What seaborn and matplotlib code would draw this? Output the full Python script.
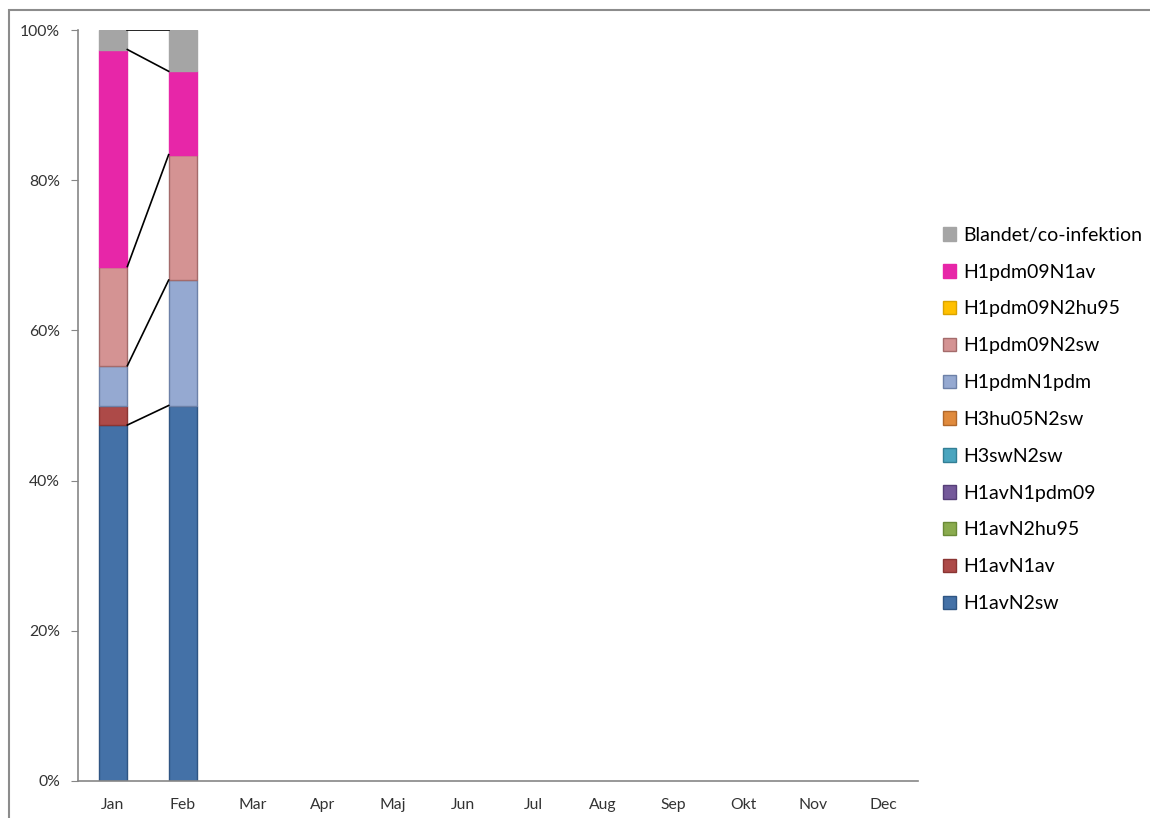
import numpy as np
import pandas as pd
import seaborn as sns
import matplotlib
matplotlib.use('Agg')
import matplotlib.pyplot as plt
from matplotlib.patches import Patch, Rectangle

months = ['Jan', 'Feb', 'Mar', 'Apr', 'Maj', 'Jun', 'Jul', 'Aug', 'Sep', 'Okt', 'Nov', 'Dec']

# series listed bottom -> top of the stack (percent of samples per month)
series_names = ['H1avN2sw', 'H1avN1av', 'H1avN2hu95', 'H1avN1pdm09', 'H3swN2sw',
                'H3hu05N2sw', 'H1pdmN1pdm', 'H1pdm09N2sw', 'H1pdm09N2hu95',
                'H1pdm09N1av', 'Blandet/co-infektion']

H1avN2sw = [47.4, 50.0]
H1avN1av = [2.6, 0.0]
H1avN2hu95 = [0.0, 0.0]
H1avN1pdm09 = [0.0, 0.0]
H3swN2sw = [0.0, 0.0]
H3hu05N2sw = [0.0, 0.0]
H1pdmN1pdm = [5.3, 16.7]
H1pdm09N2sw = [13.2, 16.7]
H1pdm09N2hu95 = [0.0, 0.0]
H1pdm09N1av = [28.9, 11.1]
Blandet = [2.6, 5.5]

series_values = [H1avN2sw, H1avN1av, H1avN2hu95, H1avN1pdm09, H3swN2sw, H3hu05N2sw,
                 H1pdmN1pdm, H1pdm09N2sw, H1pdm09N2hu95, H1pdm09N1av, Blandet]

fill_colors = ['#4471a7', '#ad4a48', '#8aab4e', '#74599a', '#4aa5bf',
               '#e08a3c', '#95a9d1', '#d49393', '#ffc000', '#e726a8', '#a5a5a5']
edge_colors = ['#2f5583', '#8a3533', '#6a8a37', '#563f78', '#337f95',
               '#b0672a', '#6d81a8', '#a46b6b', '#d9a300', '#e726a8', '#a5a5a5']

rows = []
cum = np.zeros(len(series_values[0]))
for name, vals in zip(series_names, series_values):
    vals = np.array(vals)
    for m, v, b in zip(months, vals, cum):
        rows.append({'month': m, 'series': name, 'value': v, 'base': b, 'top': b + v})
    cum = cum + vals
df = pd.DataFrame(rows)

plt.rcParams['font.family'] = ['Lato', 'DejaVu Sans']
fig = plt.figure(figsize=(11.5, 8.18), dpi=100)
ax = fig.add_axes([78 / 1150, 1 - 781 / 818, 840 / 1150, 751 / 818])

bar_w = 0.41
for i, name in enumerate(series_names):
    sub = df[(df.series == name) & (df.value > 0)]
    if sub.empty:
        continue
    sns.barplot(data=sub, x='month', y='value', order=months, color=fill_colors[i],
                edgecolor=edge_colors[i], linewidth=1.0, width=bar_w,
                bottom=sub.base.to_numpy(), saturation=1, errorbar=None, ax=ax,
                zorder=2)

# series lines between adjacent bars
for name in series_names:
    s = df[df.series == name].reset_index(drop=True)
    for j in range(len(s) - 1):
        if s.value[j] > 0 and s.value[j + 1] > 0:
            ax.plot([j + bar_w / 2, j + 1 - bar_w / 2], [s.top[j], s.top[j + 1]],
                    color='black', linewidth=1.2, zorder=3)

ax.set_xlim(-0.5, len(months) - 0.5)
ax.set_ylim(0, 100)
ax.set_yticks(np.arange(0, 101, 20))
ax.set_yticklabels([f'{t}%' for t in range(0, 101, 20)])
ax.set_xlabel('')
ax.set_ylabel('')
for sp in ['top', 'right']:
    ax.spines[sp].set_visible(False)
for sp in ['left', 'bottom']:
    ax.spines[sp].set_color('#868686')
    ax.spines[sp].set_linewidth(1.2)
ax.tick_params(axis='y', direction='out', length=5, color='#868686', labelsize=11.3,
               labelcolor='#333333', pad=8)
ax.tick_params(axis='x', length=0, labelsize=11.3, labelcolor='#333333', pad=12)

handles = [Patch(facecolor=fill_colors[i], edgecolor=edge_colors[i], label=series_names[i])
           for i in range(len(series_names) - 1, -1, -1)]
fig.legend(handles=handles, loc='upper left', bbox_to_anchor=(935 / 1150, 1 - 219 / 818),
           frameon=False, fontsize=14, handlelength=0.7, handleheight=0.7,
           handletextpad=0.35, labelspacing=1.02, borderaxespad=0)

# outer chart frame
fig.patches.append(Rectangle((8.5 / 1150, -0.1), 1.2, 1.1 - 10.5 / 818,
                             transform=fig.transFigure, fill=False,
                             edgecolor='#8c8c8c', linewidth=1.5))

fig.savefig('out.png', dpi=100)
